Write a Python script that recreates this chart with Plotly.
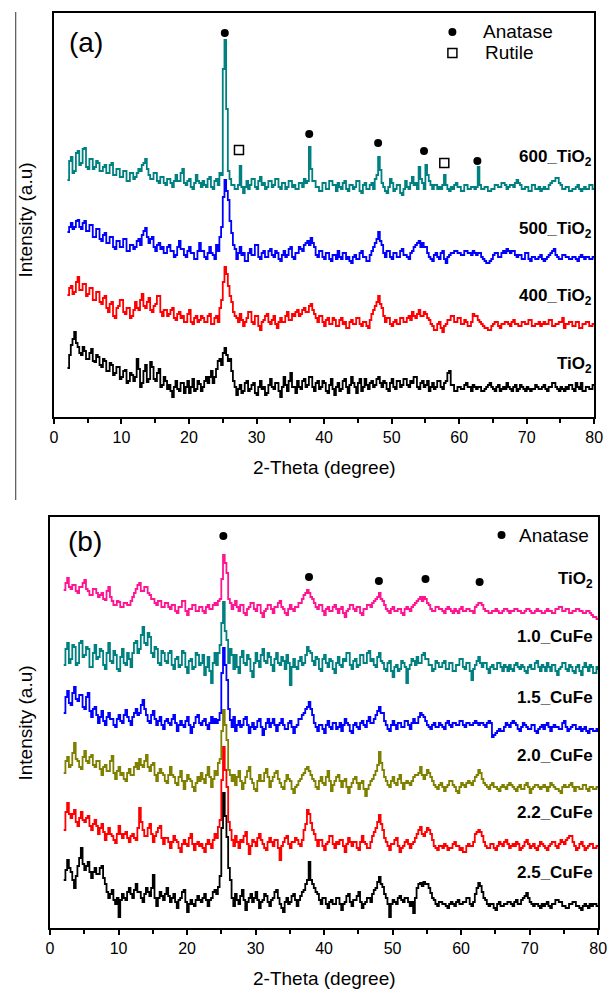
import plotly.graph_objects as go

# 2-theta sampling grid (degrees), 0.25 degree steps from 2 to 80
two_theta = [2.0 + 0.25 * i for i in range(313)]

# ---------------- panel (a): calcination temperature series ----------------
a_tio2 = [
    49, 62, 72, 78, 85, 74, 70, 64, 62, 70, 66, 58, 58, 64, 68, 56, 55, 62, 60, 52,
    50, 58, 56, 46, 46, 54, 52, 42, 44, 50, 50, 38, 40, 46, 47, 34, 36, 44, 42, 36,
    40, 58, 48, 30, 34, 46, 52, 35, 38, 55, 50, 38, 36, 44, 48, 30, 32, 40, 36, 28,
    32, 26, 20, 30, 36, 28, 26, 34, 34, 24, 30, 36, 24, 30, 38, 26, 28, 36, 33, 26,
    30, 36, 40, 34, 40, 46, 34, 40, 48, 56, 58, 52, 64, 69, 62, 56, 58, 46, 36, 30,
    22, 28, 32, 24, 26, 34, 36, 26, 28, 32, 34, 24, 22, 30, 36, 28, 30, 22, 24, 32,
    38, 30, 28, 34, 34, 26, 20, 30, 40, 32, 26, 36, 44, 30, 30, 24, 36, 30, 28, 36,
    38, 30, 32, 40, 40, 30, 26, 34, 36, 28, 30, 36, 34, 26, 24, 32, 38, 28, 22, 30,
    34, 26, 28, 36, 38, 30, 24, 32, 40, 34, 30, 24, 34, 38, 26, 30, 38, 32, 28, 34,
    36, 30, 32, 38, 40, 34, 30, 36, 34, 28, 26, 34, 38, 30, 28, 36, 36, 30, 32, 38,
    38, 32, 30, 36, 34, 40, 40, 30, 28, 34, 36, 30, 32, 36, 26, 30, 34, 28, 30, 36,
    36, 30, 28, 34, 36, 44, 46, 32, 32, 26, 26, 30, 30, 28, 28, 32, 34, 30, 30, 26,
    32, 30, 28, 30, 30, 26, 26, 28, 30, 32, 34, 30, 28, 26, 30, 32, 26, 28, 30, 28,
    34, 30, 28, 26, 30, 32, 26, 28, 32, 30, 28, 26, 30, 28, 26, 28, 28, 32, 30, 28,
    28, 30, 32, 28, 26, 30, 30, 34, 34, 30, 28, 26, 30, 28, 26, 30, 28, 32, 32, 28,
    26, 34, 30, 28, 34, 26, 26, 30, 30, 28, 28, 32, 32,
]
a_400 = [
    57, 64, 66, 58, 60, 70, 75, 62, 62, 68, 68, 56, 58, 64, 64, 52, 52, 60, 60, 50,
    48, 54, 56, 44, 40, 48, 50, 36, 34, 44, 46, 52, 52, 40, 38, 44, 44, 34, 36, 42,
    50, 44, 42, 52, 58, 46, 44, 50, 54, 42, 40, 46, 48, 56, 56, 40, 36, 42, 42, 36,
    38, 42, 44, 34, 32, 38, 40, 34, 36, 30, 30, 38, 42, 30, 28, 34, 36, 30, 32, 36,
    34, 30, 30, 36, 38, 28, 28, 34, 36, 30, 44, 52, 70, 85, 78, 66, 56, 50, 40, 36,
    34, 30, 38, 32, 26, 30, 34, 40, 40, 30, 28, 36, 36, 26, 22, 30, 32, 36, 38, 30,
    28, 32, 36, 28, 24, 30, 34, 30, 30, 36, 40, 32, 32, 38, 36, 40, 42, 36, 38, 42,
    44, 40, 40, 46, 48, 42, 38, 34, 30, 36, 36, 30, 26, 32, 34, 28, 28, 34, 32, 26,
    26, 32, 34, 28, 30, 24, 24, 30, 32, 28, 28, 34, 34, 28, 26, 30, 30, 26, 24, 32,
    38, 42, 46, 50, 56, 48, 44, 36, 30, 34, 34, 28, 26, 30, 32, 28, 28, 34, 34, 30,
    30, 34, 36, 32, 40, 36, 34, 38, 42, 36, 36, 40, 38, 34, 32, 28, 26, 22, 22, 28,
    30, 24, 20, 26, 28, 32, 32, 36, 36, 30, 30, 34, 34, 28, 28, 32, 30, 26, 26, 30,
    38, 36, 36, 32, 30, 28, 26, 24, 24, 22, 22, 26, 28, 30, 30, 26, 24, 28, 28, 30,
    30, 28, 26, 30, 32, 28, 28, 26, 26, 30, 30, 28, 28, 32, 32, 26, 26, 28, 28, 30,
    26, 28, 30, 28, 28, 32, 32, 26, 26, 28, 28, 30, 30, 34, 24, 28, 28, 30, 30, 26,
    26, 30, 30, 24, 24, 28, 28, 30, 30, 26, 26, 28, 27,
]
a_500 = [
    55, 60, 64, 58, 60, 66, 67, 60, 58, 64, 66, 56, 56, 62, 62, 50, 50, 58, 58, 48,
    46, 52, 54, 44, 44, 50, 50, 40, 38, 46, 46, 40, 40, 48, 48, 36, 36, 42, 42, 38,
    40, 46, 48, 42, 52, 56, 59, 50, 44, 48, 50, 40, 36, 42, 44, 38, 40, 34, 34, 40,
    42, 36, 36, 30, 32, 40, 46, 38, 38, 32, 30, 36, 40, 34, 34, 28, 28, 36, 44, 36,
    36, 30, 28, 34, 40, 34, 32, 28, 42, 36, 50, 60, 90, 107, 96, 87, 66, 54, 42, 38,
    28, 34, 40, 32, 34, 26, 26, 34, 38, 32, 32, 42, 42, 30, 28, 34, 36, 30, 30, 36,
    38, 32, 30, 36, 34, 28, 26, 32, 36, 30, 32, 38, 40, 30, 28, 34, 34, 40, 38, 36,
    42, 44, 46, 42, 49, 44, 40, 32, 30, 36, 36, 30, 28, 34, 34, 28, 26, 32, 32, 28,
    36, 30, 28, 34, 34, 28, 30, 26, 24, 30, 32, 28, 28, 34, 36, 30, 30, 26, 26, 32,
    36, 40, 44, 48, 55, 46, 42, 34, 30, 36, 36, 30, 28, 34, 34, 30, 30, 36, 38, 32,
    32, 30, 28, 34, 36, 40, 42, 44, 46, 40, 44, 40, 40, 34, 30, 28, 26, 32, 34, 30,
    28, 34, 36, 28, 24, 30, 32, 34, 34, 36, 36, 34, 34, 32, 32, 36, 36, 34, 34, 32,
    36, 34, 32, 34, 34, 30, 28, 26, 24, 24, 26, 28, 32, 34, 34, 30, 30, 34, 36, 34,
    38, 36, 34, 36, 36, 32, 30, 32, 32, 28, 28, 34, 34, 28, 26, 30, 30, 28, 28, 30,
    32, 28, 26, 28, 30, 32, 34, 36, 38, 32, 30, 28, 28, 32, 32, 30, 30, 28, 28, 30,
    30, 28, 26, 30, 32, 30, 28, 30, 30, 28, 28, 30, 29,
]
a_600 = [
    39, 58, 62, 46, 48, 66, 68, 54, 56, 70, 71, 52, 50, 60, 60, 50, 52, 58, 56, 48,
    48, 52, 54, 46, 46, 54, 56, 44, 44, 50, 50, 42, 42, 48, 48, 38, 38, 46, 46, 40,
    42, 46, 50, 48, 54, 56, 60, 50, 44, 40, 40, 46, 46, 38, 36, 42, 42, 36, 34, 40,
    40, 36, 32, 38, 44, 38, 38, 46, 50, 36, 34, 38, 40, 32, 30, 36, 44, 38, 36, 32,
    38, 34, 32, 40, 42, 32, 30, 38, 40, 34, 46, 44, 150, 179, 110, 48, 40, 34, 34, 30,
    30, 34, 53, 32, 26, 32, 38, 30, 34, 40, 40, 32, 30, 38, 42, 34, 36, 30, 32, 38,
    38, 32, 34, 40, 40, 32, 30, 36, 36, 30, 32, 38, 38, 32, 34, 30, 30, 36, 36, 32,
    40, 36, 38, 72, 50, 38, 38, 32, 32, 28, 28, 36, 36, 30, 30, 38, 38, 34, 34, 28,
    36, 32, 30, 36, 38, 30, 28, 34, 34, 30, 32, 38, 38, 28, 26, 34, 36, 30, 30, 34,
    36, 30, 40, 44, 62, 49, 36, 32, 28, 26, 32, 40, 36, 28, 30, 34, 34, 26, 24, 30,
    38, 32, 30, 36, 42, 34, 36, 30, 52, 40, 36, 30, 54, 44, 38, 34, 30, 34, 34, 30,
    32, 30, 34, 44, 34, 30, 28, 32, 30, 34, 36, 32, 32, 28, 28, 34, 34, 30, 30, 32,
    32, 30, 32, 52, 34, 30, 30, 32, 32, 28, 28, 30, 30, 34, 34, 32, 32, 36, 36, 34,
    30, 32, 34, 34, 32, 36, 39, 36, 34, 30, 30, 32, 32, 28, 28, 34, 34, 30, 30, 32,
    28, 30, 32, 30, 30, 34, 36, 38, 38, 41, 41, 36, 34, 30, 30, 32, 32, 28, 28, 30,
    30, 32, 34, 30, 28, 30, 32, 30, 30, 34, 34, 30, 31,
]

# ---------------- panel (b): CuFe loading series ----------------
b_tio2 = [
    45, 52, 57, 48, 46, 50, 50, 44, 42, 48, 48, 52, 55, 46, 44, 40, 40, 46, 46, 42,
    38, 40, 42, 36, 35, 44, 48, 38, 34, 30, 30, 34, 33, 28, 28, 32, 32, 30, 30, 34,
    38, 42, 46, 50, 52, 44, 44, 48, 48, 42, 40, 36, 36, 32, 30, 34, 34, 28, 28, 32,
    32, 28, 26, 30, 30, 24, 22, 28, 28, 34, 34, 24, 20, 26, 26, 30, 30, 24, 24, 28,
    28, 24, 22, 28, 30, 26, 26, 30, 32, 30, 34, 36, 56, 80, 72, 62, 36, 32, 26, 30,
    34, 28, 24, 30, 30, 22, 20, 26, 28, 32, 32, 26, 24, 30, 30, 22, 18, 24, 26, 30,
    30, 26, 22, 28, 28, 32, 34, 28, 26, 22, 20, 26, 30, 26, 24, 28, 28, 32, 32, 36,
    40, 42, 45, 42, 38, 36, 32, 28, 26, 30, 30, 24, 20, 26, 28, 24, 24, 28, 30, 26,
    22, 26, 28, 22, 18, 24, 26, 30, 30, 26, 24, 28, 28, 22, 20, 26, 26, 30, 30, 28,
    32, 34, 36, 38, 42, 36, 34, 30, 26, 24, 22, 26, 28, 24, 24, 26, 26, 22, 20, 26,
    28, 26, 24, 28, 30, 32, 34, 36, 38, 34, 38, 36, 32, 30, 26, 24, 24, 28, 28, 26,
    26, 24, 22, 26, 28, 26, 24, 22, 26, 24, 22, 26, 28, 24, 24, 26, 26, 24, 24, 22,
    28, 30, 32, 32, 30, 26, 24, 24, 22, 22, 24, 24, 26, 24, 22, 22, 24, 26, 26, 24,
    22, 24, 24, 26, 26, 24, 24, 22, 22, 24, 26, 26, 24, 22, 22, 24, 26, 24, 24, 22,
    22, 24, 26, 24, 24, 22, 22, 26, 26, 28, 28, 24, 24, 26, 26, 22, 22, 24, 24, 26,
    26, 24, 24, 22, 22, 24, 24, 22, 20, 18, 18, 16, 15,
]
b_cufe_10 = [
    28, 44, 50, 30, 34, 48, 46, 28, 30, 50, 52, 36, 38, 46, 44, 26, 26, 40, 48, 34,
    36, 44, 42, 28, 24, 40, 50, 32, 30, 42, 38, 24, 22, 36, 44, 30, 28, 40, 34, 26,
    40, 50, 52, 40, 44, 58, 66, 50, 48, 60, 56, 40, 36, 46, 44, 30, 28, 42, 40, 32,
    30, 40, 42, 28, 24, 34, 36, 26, 28, 42, 40, 26, 20, 32, 34, 24, 26, 40, 38, 28,
    30, 38, 18, 26, 36, 22, 10, 30, 40, 28, 40, 48, 70, 91, 62, 53, 30, 44, 38, 24,
    38, 26, 20, 36, 42, 30, 28, 38, 34, 22, 16, 30, 40, 32, 26, 38, 44, 32, 30, 40,
    36, 28, 22, 34, 40, 30, 28, 36, 32, 24, 38, 30, 8, 26, 34, 26, 24, 32, 36, 28,
    30, 38, 46, 42, 40, 32, 28, 36, 34, 24, 22, 34, 38, 30, 26, 34, 32, 24, 20, 30,
    36, 28, 26, 34, 32, 40, 40, 28, 24, 32, 34, 26, 28, 38, 38, 30, 30, 40, 42, 32,
    34, 28, 26, 36, 40, 32, 30, 24, 22, 30, 32, 22, 16, 26, 28, 22, 24, 32, 30, 26,
    10, 24, 28, 34, 32, 28, 36, 30, 30, 38, 40, 34, 34, 28, 28, 22, 24, 32, 30, 26,
    26, 30, 32, 24, 24, 30, 30, 22, 22, 28, 28, 34, 34, 26, 24, 30, 30, 22, 13, 24,
    28, 32, 36, 30, 26, 30, 30, 24, 20, 26, 28, 24, 24, 30, 30, 26, 22, 28, 26, 22,
    28, 24, 22, 28, 30, 26, 24, 28, 26, 22, 20, 26, 28, 24, 24, 30, 32, 26, 22, 28,
    26, 22, 30, 26, 22, 28, 28, 22, 18, 24, 26, 30, 30, 24, 22, 28, 26, 22, 20, 26,
    28, 22, 18, 26, 30, 26, 22, 28, 26, 20, 20, 26, 23,
]
b_cufe_15 = [
    40, 56, 62, 50, 48, 60, 66, 54, 52, 58, 58, 46, 44, 56, 60, 42, 36, 44, 46, 38,
    30, 36, 42, 32, 28, 36, 40, 34, 34, 28, 26, 34, 38, 32, 30, 38, 43, 36, 32, 28,
    36, 40, 44, 38, 40, 48, 53, 44, 38, 32, 30, 38, 42, 34, 28, 32, 36, 28, 24, 32,
    34, 30, 28, 34, 38, 30, 22, 28, 32, 28, 26, 32, 36, 28, 20, 26, 30, 36, 38, 30,
    28, 32, 34, 28, 24, 30, 36, 30, 34, 30, 33, 40, 80, 105, 88, 73, 44, 33, 26, 36,
    22, 28, 32, 26, 28, 34, 36, 28, 20, 26, 30, 24, 26, 32, 34, 26, 18, 24, 30, 34,
    26, 30, 34, 28, 22, 28, 30, 34, 28, 24, 24, 30, 32, 26, 20, 26, 28, 34, 34, 38,
    40, 44, 46, 51, 44, 38, 30, 26, 22, 28, 28, 24, 20, 28, 32, 26, 24, 30, 30, 24,
    26, 30, 22, 28, 34, 30, 28, 22, 20, 28, 30, 26, 24, 30, 32, 28, 26, 32, 36, 30,
    30, 34, 38, 42, 46, 40, 40, 32, 28, 24, 22, 28, 32, 28, 24, 30, 30, 26, 26, 32,
    32, 28, 24, 30, 34, 30, 30, 36, 40, 38, 36, 32, 28, 26, 24, 28, 30, 26, 26, 30,
    28, 26, 24, 30, 32, 28, 26, 30, 30, 28, 28, 32, 32, 28, 26, 30, 30, 28, 28, 30,
    32, 30, 28, 30, 30, 28, 26, 30, 32, 30, 16, 18, 20, 22, 24, 22, 22, 26, 30, 28,
    26, 30, 32, 30, 28, 24, 22, 26, 30, 28, 26, 24, 24, 28, 28, 22, 20, 24, 26, 28,
    24, 28, 30, 26, 22, 26, 28, 26, 26, 24, 24, 30, 32, 26, 22, 24, 26, 28, 28, 24,
    24, 26, 22, 24, 26, 22, 20, 24, 24, 22, 22, 24, 21,
]
b_cufe_20 = [
    38, 50, 54, 44, 46, 58, 68, 52, 50, 44, 42, 54, 60, 50, 48, 54, 56, 46, 44, 50,
    50, 42, 36, 44, 46, 40, 40, 50, 55, 38, 32, 40, 44, 36, 38, 32, 30, 38, 42, 36,
    36, 44, 48, 42, 52, 46, 44, 50, 56, 44, 40, 46, 48, 36, 30, 38, 42, 38, 36, 30,
    28, 36, 44, 36, 34, 28, 26, 34, 40, 30, 22, 30, 36, 32, 30, 24, 20, 28, 34, 30,
    38, 32, 28, 36, 44, 34, 24, 32, 40, 36, 48, 52, 80, 101, 86, 71, 41, 36, 30, 36,
    26, 34, 40, 30, 22, 28, 34, 40, 44, 32, 28, 22, 20, 30, 36, 30, 30, 38, 42, 34,
    24, 30, 34, 38, 40, 32, 28, 24, 22, 30, 36, 32, 30, 22, 18, 24, 26, 30, 32, 36,
    38, 42, 44, 40, 36, 32, 30, 24, 22, 30, 34, 28, 26, 34, 40, 30, 20, 26, 30, 34,
    36, 30, 24, 30, 32, 24, 18, 24, 28, 32, 34, 28, 22, 28, 30, 22, 15, 22, 26, 30,
    32, 36, 40, 46, 59, 48, 41, 34, 30, 26, 24, 30, 34, 28, 26, 32, 36, 28, 22, 28,
    30, 28, 26, 30, 34, 36, 36, 38, 44, 36, 32, 36, 41, 38, 34, 30, 26, 24, 22, 26,
    28, 24, 20, 24, 26, 30, 30, 26, 24, 20, 18, 24, 28, 26, 24, 28, 30, 28, 26, 30,
    34, 36, 41, 38, 32, 28, 26, 24, 22, 26, 28, 24, 24, 22, 20, 24, 26, 24, 22, 26,
    28, 26, 24, 22, 20, 24, 26, 22, 22, 26, 28, 24, 18, 22, 24, 26, 26, 24, 22, 24,
    26, 24, 20, 24, 28, 26, 24, 22, 22, 20, 18, 24, 26, 24, 24, 26, 28, 24, 20, 24,
    24, 22, 22, 26, 26, 22, 20, 24, 24, 22, 22, 24, 23,
]
b_cufe_22 = [
    40, 58, 67, 56, 52, 56, 60, 48, 44, 52, 58, 50, 48, 52, 54, 44, 40, 46, 50, 44,
    36, 42, 46, 38, 30, 36, 42, 36, 34, 30, 27, 36, 44, 36, 32, 36, 38, 32, 28, 34,
    36, 32, 30, 42, 62, 48, 40, 34, 34, 42, 46, 36, 28, 34, 38, 42, 44, 32, 26, 32,
    32, 28, 22, 28, 34, 30, 28, 22, 18, 26, 30, 26, 24, 32, 36, 26, 20, 26, 28, 24,
    26, 22, 18, 26, 30, 26, 22, 30, 36, 32, 43, 50, 90, 123, 100, 83, 48, 40, 30, 24,
    34, 28, 22, 30, 28, 34, 38, 26, 16, 24, 30, 28, 24, 32, 36, 30, 26, 22, 20, 28,
    32, 28, 24, 30, 30, 22, 10, 24, 28, 32, 34, 26, 22, 28, 28, 32, 30, 26, 24, 30,
    40, 46, 60, 56, 47, 40, 36, 30, 24, 30, 30, 24, 20, 26, 28, 34, 34, 26, 22, 28,
    26, 30, 30, 24, 18, 26, 32, 28, 24, 28, 28, 22, 20, 28, 34, 28, 26, 22, 22, 28,
    34, 38, 42, 48, 55, 46, 40, 32, 28, 24, 20, 26, 26, 30, 32, 24, 18, 22, 24, 28,
    30, 26, 22, 26, 28, 32, 36, 40, 43, 36, 34, 38, 42, 40, 36, 30, 24, 22, 20, 24,
    24, 22, 26, 24, 20, 22, 22, 26, 28, 24, 24, 20, 22, 18, 18, 24, 26, 24, 24, 28,
    36, 38, 40, 38, 34, 28, 24, 22, 22, 26, 26, 22, 20, 24, 28, 26, 24, 28, 30, 26,
    22, 24, 26, 24, 28, 26, 20, 22, 24, 28, 30, 26, 22, 24, 26, 22, 20, 24, 28, 26,
    24, 22, 20, 24, 26, 28, 28, 24, 22, 26, 30, 28, 26, 30, 32, 34, 34, 28, 24, 20,
    22, 26, 28, 24, 20, 22, 24, 26, 26, 22, 22, 24, 23,
]
b_cufe_25 = [
    48, 58, 68, 60, 56, 48, 40, 52, 62, 70, 80, 64, 58, 62, 66, 56, 50, 56, 60, 54,
    54, 60, 62, 50, 44, 36, 30, 34, 38, 28, 24, 30, 11, 28, 34, 30, 28, 36, 40, 34,
    30, 38, 44, 36, 36, 30, 26, 34, 40, 36, 32, 40, 53, 30, 22, 30, 36, 32, 28, 34,
    40, 32, 26, 30, 34, 26, 20, 28, 30, 36, 38, 26, 16, 24, 28, 24, 22, 28, 32, 28,
    26, 30, 34, 28, 22, 28, 30, 36, 38, 34, 41, 52, 100, 135, 112, 91, 60, 48, 30, 22,
    34, 28, 24, 32, 38, 28, 18, 26, 30, 34, 26, 30, 36, 28, 20, 26, 28, 34, 32, 26,
    22, 28, 30, 36, 38, 30, 24, 20, 16, 26, 30, 24, 26, 32, 34, 28, 22, 28, 32, 36,
    38, 44, 48, 66, 48, 44, 40, 36, 34, 28, 24, 30, 30, 24, 20, 26, 28, 24, 24, 30,
    30, 24, 18, 24, 26, 32, 34, 26, 22, 28, 28, 32, 36, 26, 20, 24, 26, 30, 30, 26,
    34, 38, 40, 46, 51, 44, 41, 34, 30, 24, 11, 24, 28, 26, 24, 30, 32, 28, 26, 30,
    30, 26, 22, 26, 15, 30, 40, 44, 45, 42, 46, 44, 44, 40, 35, 30, 28, 24, 22, 26,
    26, 24, 24, 22, 20, 24, 26, 24, 22, 26, 28, 24, 24, 26, 26, 30, 30, 24, 22, 26,
    34, 40, 45, 42, 36, 30, 28, 24, 22, 24, 24, 20, 18, 24, 26, 22, 22, 24, 24, 26,
    26, 24, 22, 26, 28, 24, 24, 28, 30, 32, 35, 30, 26, 24, 22, 24, 24, 22, 20, 24,
    22, 24, 26, 22, 20, 24, 24, 28, 28, 26, 26, 22, 22, 20, 20, 24, 24, 26, 26, 22,
    22, 20, 18, 22, 24, 22, 20, 24, 22, 24, 24, 22, 21,
]

# reflection positions (2-theta, degrees)
anatase_peaks = [25.3, 37.8, 48.0, 54.8, 62.7]
rutile_peaks = [27.4, 57.8]

FONT = "Arial, Liberation Sans, sans-serif"
TEAL, BLUE, RED, BLACK = "#008080", "#0000FF", "#FF0000", "#000000"
PINK, OLIVE = "#FF1493", "#808000"

for name, s in [("a_tio2", a_tio2), ("a_400", a_400), ("a_500", a_500), ("a_600", a_600),
                ("b_tio2", b_tio2), ("b_cufe_10", b_cufe_10), ("b_cufe_15", b_cufe_15),
                ("b_cufe_20", b_cufe_20), ("b_cufe_22", b_cufe_22), ("b_cufe_25", b_cufe_25)]:
    if len(s) != len(two_theta):
        raise ValueError(f"{name}: {len(s)} values for {len(two_theta)} angles")

fig = go.Figure()

# (series, colour, vertical stacking offset, label, label height)
panel_a = [
    (a_tio2, BLACK, 0, "TiO<sub>2</sub>", 52),
    (a_400, RED, 65, "400_TiO<sub>2</sub>", 120),
    (a_500, BLUE, 130, "500_TiO<sub>2</sub>", 187),
    (a_600, TEAL, 198, "600_TiO<sub>2</sub>", 259),
]
panel_b = [
    (b_cufe_25, BLACK, 0, "2.5_CuFe", 56),
    (b_cufe_22, RED, 58, "2.2_CuFe", 116),
    (b_cufe_20, OLIVE, 117, "2.0_CuFe", 173),
    (b_cufe_15, BLUE, 175, "1.5_CuFe", 231),
    (b_cufe_10, TEAL, 235, "1.0_CuFe", 292),
    (b_tio2, PINK, 293, "TiO<sub>2</sub>", 348),
]

annotations = []
for series, color, off, label, ly in panel_a:
    fig.add_trace(go.Scatter(
        x=two_theta, y=[v + off for v in series], mode="lines",
        line=dict(color=color, width=1.8, shape="hv"),
        xaxis="x", yaxis="y", showlegend=False, hoverinfo="skip"))
    annotations.append(dict(x=80, y=ly, xref="x", yref="y", text="<b>" + label + "</b>",
                            showarrow=False, xanchor="right", yanchor="middle",
                            font=dict(family=FONT, size=17, color="black")))
for series, color, off, label, ly in panel_b:
    fig.add_trace(go.Scatter(
        x=two_theta, y=[v + off for v in series], mode="lines",
        line=dict(color=color, width=1.8, shape="hv"),
        xaxis="x2", yaxis="y2", showlegend=False, hoverinfo="skip"))
    annotations.append(dict(x=79.6, y=ly, xref="x2", yref="y2", text="<b>" + label + "</b>",
                            showarrow=False, xanchor="right", yanchor="middle",
                            font=dict(family=FONT, size=17, color="black")))

dot = dict(symbol="circle", size=8, color="black")
square = dict(symbol="square-open", size=9, color="black", line=dict(width=1.5, color="black"))

# phase markers above the reflections
fig.add_trace(go.Scatter(x=anatase_peaks, y=[384, 283, 274, 266, 256], mode="markers",
                         marker=dot, xaxis="x", yaxis="y", showlegend=False, hoverinfo="skip"))
fig.add_trace(go.Scatter(x=rutile_peaks, y=[267, 254], mode="markers",
                         marker=square, xaxis="x", yaxis="y", showlegend=False, hoverinfo="skip"))
fig.add_trace(go.Scatter(x=anatase_peaks, y=[392, 351, 347, 349, 346], mode="markers",
                         marker=dot, xaxis="x2", yaxis="y2", showlegend=False, hoverinfo="skip"))

# in-plot keys
fig.add_trace(go.Scatter(x=[59.0], y=[385], mode="markers", marker=dot,
                         xaxis="x", yaxis="y", showlegend=False, hoverinfo="skip"))
fig.add_trace(go.Scatter(x=[59.0], y=[364], mode="markers", marker=square,
                         xaxis="x", yaxis="y", showlegend=False, hoverinfo="skip"))
fig.add_trace(go.Scatter(x=[65.9], y=[393], mode="markers", marker=dot,
                         xaxis="x2", yaxis="y2", showlegend=False, hoverinfo="skip"))

key_font = dict(family=FONT, size=19, color="black")
annotations += [
    dict(x=63.3, y=385, xref="x", yref="y", text="Anatase", showarrow=False,
         xanchor="left", yanchor="middle", font=key_font),
    dict(x=63.6, y=364, xref="x", yref="y", text="Rutile", showarrow=False,
         xanchor="left", yanchor="middle", font=key_font),
    dict(x=68.2, y=393, xref="x2", yref="y2", text="Anatase", showarrow=False,
         xanchor="left", yanchor="middle", font=key_font),
    # panel tags
    dict(x=2.0, y=374, xref="x", yref="y", text="(a)", showarrow=False,
         xanchor="left", yanchor="middle", font=dict(family=FONT, size=28, color="black")),
    dict(x=2.3, y=387, xref="x2", yref="y2", text="(b)", showarrow=False,
         xanchor="left", yanchor="middle", font=dict(family=FONT, size=28, color="black")),
    # axis titles
    dict(x=327 / 614, y=1 - 467 / 989, xref="paper", yref="paper", text="2-Theta (degree)",
         showarrow=False, xanchor="center", yanchor="middle",
         font=dict(family=FONT, size=19, color="black")),
    dict(x=327 / 614, y=1 - 978 / 989, xref="paper", yref="paper", text="2-Theta (degree)",
         showarrow=False, xanchor="center", yanchor="middle",
         font=dict(family=FONT, size=19, color="black")),
    dict(x=21 / 614, y=1 - 220 / 989, xref="paper", yref="paper", text="Intensity (a.u)",
         showarrow=False, xanchor="center", yanchor="middle", textangle=-90,
         font=dict(family=FONT, size=19, color="black")),
    dict(x=21 / 614, y=1 - 723 / 989, xref="paper", yref="paper", text="Intensity (a.u)",
         showarrow=False, xanchor="center", yanchor="middle", textangle=-90,
         font=dict(family=FONT, size=19, color="black")),
]

xaxis_common = dict(range=[0, 80], dtick=10, tick0=0, ticks="outside", ticklen=5, tickwidth=1.5,
                    tickcolor="black", showline=True, linecolor="black", linewidth=1.8,
                    mirror=True, showgrid=False, zeroline=False,
                    minor=dict(dtick=5, ticks="outside", ticklen=4, tickwidth=1.5, tickcolor="black"),
                    tickfont=dict(family=FONT, size=16, color="black"))
yaxis_common = dict(showticklabels=False, ticks="", showline=True, linecolor="black",
                    linewidth=1.8, mirror=True, showgrid=False, zeroline=False)

fig.update_layout(
    width=614, height=989,
    margin=dict(l=0, r=0, t=0, b=0),
    paper_bgcolor="white", plot_bgcolor="white",
    xaxis=dict(xaxis_common, domain=[51 / 614, 603 / 614], anchor="y"),
    yaxis=dict(yaxis_common, domain=[1 - 417 / 989, 1 - 13 / 989], range=[0, 404], anchor="x"),
    xaxis2=dict(xaxis_common, domain=[47 / 614, 607 / 614], anchor="y2"),
    yaxis2=dict(yaxis_common, domain=[1 - 928 / 989, 1 - 517 / 989], range=[0, 411], anchor="x2"),
    annotations=annotations,
    shapes=[dict(type="line", xref="paper", yref="paper",
                 x0=12 / 614, x1=12 / 614, y0=1 - 12 / 989, y1=1 - 500 / 989,
                 line=dict(color="#333333", width=1))],
)

fig.write_html("out.html")
